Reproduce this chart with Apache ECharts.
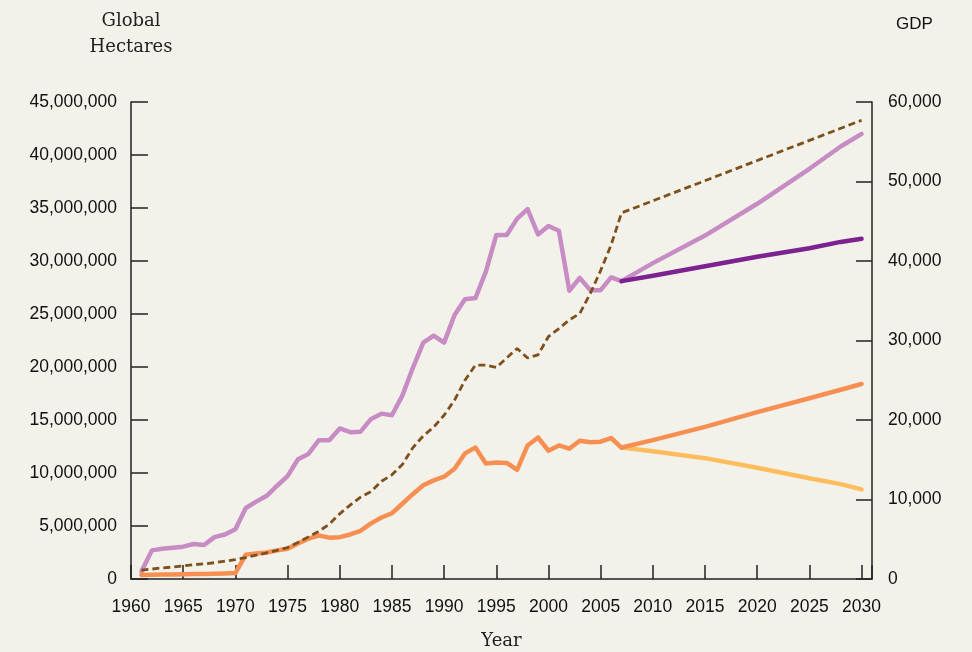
<!DOCTYPE html>
<html>
<head>
<meta charset="utf-8">
<script src="https://cdn.jsdelivr.net/npm/echarts@6/dist/echarts.min.js"></script>
<style>
  html, body { margin: 0; padding: 0; background: #f3f2ea; }
  #chart { width: 972px; height: 652px; }
</style>
</head>
<body>
<div id="chart"></div>
<script>
// historical years 1961-2007
const histYears = [1961, 1962, 1963, 1964, 1965, 1966, 1967, 1968, 1969, 1970,
  1971, 1972, 1973, 1974, 1975, 1976, 1977, 1978, 1979, 1980,
  1981, 1982, 1983, 1984, 1985, 1986, 1987, 1988, 1989, 1990,
  1991, 1992, 1993, 1994, 1995, 1996, 1997, 1998, 1999, 2000,
  2001, 2002, 2003, 2004, 2005, 2006, 2007]

// ecological footprint, millions of global hectares
const footprint = [0.7, 2.7, 2.85, 2.95, 3.05, 3.3, 3.2, 3.95, 4.2, 4.7,
  6.7, 7.3, 7.85, 8.8, 9.7, 11.3, 11.8, 13.1, 13.1, 14.2,
  13.85, 13.9, 15.1, 15.6, 15.45, 17.3, 19.9, 22.3, 22.95, 22.3,
  24.9, 26.4, 26.5, 29.0, 32.45, 32.45, 34.0, 34.9, 32.5, 33.3,
  32.85, 27.2, 28.4, 27.25, 27.25, 28.45, 28.1]

// orange series, millions of global hectares
const orangeHist = [0.38, 0.4, 0.42, 0.43, 0.45, 0.46, 0.48, 0.5, 0.52, 0.56,
  2.3, 2.4, 2.5, 2.7, 2.85, 3.35, 3.8, 4.1, 3.9, 3.95,
  4.2, 4.55, 5.25, 5.8, 6.2, 7.1, 8.0, 8.85, 9.3, 9.65,
  10.4, 11.85, 12.4, 10.9, 11.0, 10.95, 10.3, 12.6, 13.35, 12.1,
  12.6, 12.3, 13.05, 12.9, 12.95, 13.3, 12.4]

// GDP (right axis)
const gdpYears = histYears.concat([2030])
const gdp = [1100, 1250, 1400, 1500, 1650, 1800, 1900, 2050, 2250, 2450,
  2700, 3000, 3300, 3600, 3950, 4600, 5300, 6000, 6900, 8200,
  9300, 10300, 11000, 12300, 13100, 14400, 16500, 18000, 19100, 20600,
  22500, 25000, 26900, 26900, 26600, 27800, 29000, 27800, 28200, 30500,
  31500, 32600, 33400, 35900, 38800, 42000, 46050, 57700]

// projections 2007-2030, millions of global hectares
const projYears = [2007, 2010, 2015, 2020, 2025, 2028, 2030]
const footprintHigh = [28.1, 29.8, 32.4, 35.4, 38.7, 40.8, 42.0]
const footprintLow = [28.1, 28.6, 29.5, 30.4, 31.2, 31.8, 32.1]
const orangeProj = [12.4, 13.1, 14.35, 15.75, 17.05, 17.85, 18.4]
const yellowProj = [12.4, 12.05, 11.4, 10.5, 9.5, 8.95, 8.45]

const pairs = (xs, ys, k) => xs.map((x, i) => [x, ys[i] * k])

const sans = 'Liberation Sans'
const serif = 'DejaVu Serif'
const axisColor = '#222'

function lineSeries (data, color, width, extra) {
  return {
    type: 'line',
    data: data,
    symbol: 'none',
    lineStyle: { color: color, width: width, cap: 'round', join: 'round' },
    ...(extra || {})
  }
}

const chart = echarts.init(document.getElementById('chart'))
chart.setOption({
  backgroundColor: '#f3f2ea',
  animation: false,
  title: {
    text: 'GDP',
    left: 891,
    top: 11,
    textStyle: { fontFamily: sans, fontSize: 17, fontWeight: 'normal', color: '#111' }
  },
  grid: { left: 131, right: 100, top: 102, bottom: 73, outerBoundsMode: 'none', containLabel: false },
  xAxis: {
    type: 'value',
    min: 1960,
    max: 2031,
    interval: 5,
    name: 'Year',
    nameLocation: 'middle',
    nameGap: 53,
    nameTextStyle: { fontFamily: serif, fontSize: 18, color: '#222' },
    axisLine: { lineStyle: { color: axisColor, width: 1.5 } },
    axisTick: { inside: true, length: 14, lineStyle: { color: axisColor, width: 1.5 } },
    splitLine: { show: false },
    axisLabel: {
      fontFamily: sans, fontSize: 17.5, color: '#111', margin: 19,
      formatter: v => (v % 5 === 0 ? String(v) : '')
    }
  },
  yAxis: [
    {
      type: 'value',
      min: 0,
      max: 45000000,
      interval: 5000000,
      name: 'Global\nHectares',
      nameLocation: 'end',
      nameGap: 42,
      nameTextStyle: { fontFamily: serif, fontSize: 18, lineHeight: 26, color: '#222', align: 'center' },
      axisLine: { show: true, lineStyle: { color: axisColor, width: 1.5 } },
      axisTick: { show: true, inside: true, length: 17, lineStyle: { color: axisColor, width: 1.5 } },
      splitLine: { show: false },
      axisLabel: {
        fontFamily: sans, fontSize: 17.5, color: '#111', margin: 14,
        formatter: v => v.toLocaleString('en-US')
      }
    },
    {
      type: 'value',
      position: 'right',
      min: 0,
      max: 60000,
      interval: 10000,
      axisLine: { show: true, lineStyle: { color: axisColor, width: 1.5 } },
      axisTick: { show: true, inside: true, length: 16, lineStyle: { color: axisColor, width: 1.5 } },
      splitLine: { show: false },
      axisLabel: {
        fontFamily: sans, fontSize: 17.5, color: '#111', margin: 16,
        formatter: v => v.toLocaleString('en-US')
      }
    }
  ],
  series: [
    lineSeries(pairs(histYears, footprint, 1e6), '#c88cc4', 4.5),
    lineSeries(pairs(projYears, footprintHigh, 1e6), '#c88cc4', 4.5),
    lineSeries(pairs(projYears, footprintLow, 1e6), '#7d2391', 4.5),
    lineSeries(pairs(projYears, yellowProj, 1e6), '#fdbd5f', 4.5),
    lineSeries(pairs(histYears, orangeHist, 1e6), '#f78f52', 4.5),
    lineSeries(pairs(projYears, orangeProj, 1e6), '#f78f52', 4.5),
    {
      type: 'line',
      yAxisIndex: 1,
      data: pairs(gdpYears, gdp, 1),
      symbol: 'none',
      lineStyle: { color: '#7d501e', width: 2.8, type: [7, 4] }
    }
  ]
})
</script>
</body>
</html>
